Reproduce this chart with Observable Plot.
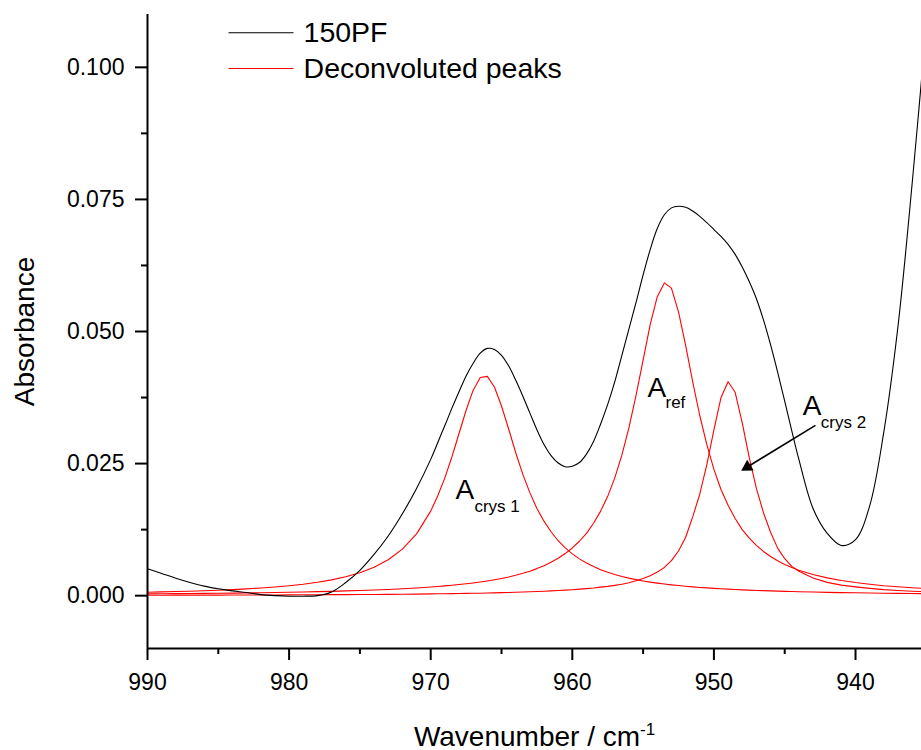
<!DOCTYPE html>
<html>
<head>
<meta charset="utf-8">
<script src="https://cdn.jsdelivr.net/npm/d3@7"></script>
<script src="https://cdn.jsdelivr.net/npm/@observablehq/plot@0.6"></script>
<style>
  body { margin: 0; background: #fff; }
</style>
</head>
<body>
<div id="chart"></div>
<script>
// Wavenumber grid (cm^-1), finer through the band region
const wavenumber = [
  990, 989, 988, 987, 986, 985, 984, 983, 982, 981, 980, 979, 978, 977, 976, 975, 974, 973, 972, 971,
  970, 969.5, 969, 968.5, 968, 967.5, 967, 966.5, 966, 965.5, 965, 964.5, 964, 963.5, 963, 962.5,
  962, 961.5, 961, 960.5, 960, 959.5, 959, 958.5, 958, 957.5, 957, 956.5, 956, 955.5, 955, 954.5,
  954, 953.5, 953, 952.5, 952, 951.5, 951, 950.5, 950, 949.5, 949, 948.5, 948, 947.5, 947, 946.5,
  946, 945.5, 945, 944.5, 944,
  943, 942, 941, 940, 939, 938, 937, 936, 935
];

// Measured spectrum of 150PF
const spectrum150PF = [
  0.0051, 0.0042, 0.0033, 0.0025, 0.0018, 0.0013, 0.0009, 0.0006, 0.0002, 0.0000, -0.0001, -0.0001, 0.0000, 0.0007, 0.0025, 0.0048, 0.0078, 0.0113, 0.0155, 0.0203,
  0.0258, 0.0290, 0.0322, 0.0355, 0.0386, 0.0416, 0.0440, 0.0459, 0.0468, 0.0466, 0.0455, 0.0435, 0.0408, 0.0378, 0.0346, 0.0314,
  0.0286, 0.0265, 0.0251, 0.0244, 0.0245, 0.0252, 0.0268, 0.0292, 0.0325, 0.0362, 0.0405, 0.0455, 0.0505, 0.0555, 0.0607, 0.0655,
  0.0695, 0.0721, 0.0734, 0.0737, 0.0735, 0.0728, 0.0718, 0.0706, 0.0693, 0.0680, 0.0665, 0.0646, 0.0622, 0.0594, 0.0562, 0.0522,
  0.0475, 0.0423, 0.0368, 0.0312, 0.0258,
  0.0165, 0.0118, 0.0095, 0.0106, 0.0170, 0.0310, 0.0510, 0.0780, 0.1080
];

// Deconvoluted component: A crys 1 (~966 cm^-1)
const peakCrys1 = [
  0.00065, 0.00071, 0.00078, 0.00085, 0.00094, 0.00103, 0.00115, 0.00129, 0.00145, 0.00165, 0.00188, 0.00217, 0.00253, 0.00299, 0.00357, 0.00434, 0.00537, 0.00679, 0.0088, 0.0117,
  0.0160, 0.0189, 0.0223, 0.0263, 0.0307, 0.0351, 0.0389, 0.0413, 0.0415, 0.0395, 0.0359, 0.0316, 0.0271, 0.0230, 0.0195, 0.0165,
  0.0141, 0.0121, 0.0104, 0.00905, 0.00791, 0.00696, 0.00617, 0.00550, 0.00492, 0.00443, 0.00401, 0.00364, 0.00332, 0.00304, 0.00279, 0.00257,
  0.00238, 0.00220, 0.00205, 0.00191, 0.00178, 0.00167, 0.00156, 0.00147, 0.00138, 0.00130, 0.00123, 0.00116, 0.00110, 0.00105, 0.00099, 0.00095,
  0.00090, 0.00086, 0.00082, 0.00078, 0.00075,
  0.00069, 0.00063, 0.00058, 0.00054, 0.00050, 0.00047, 0.00044, 0.00041, 0.00038
];

// Deconvoluted component: A ref (~953 cm^-1)
const peakRef = [
  0.00034, 0.00036, 0.00039, 0.00041, 0.00043, 0.00046, 0.00049, 0.00053, 0.00056, 0.00060, 0.00065, 0.00070, 0.00076, 0.00082, 0.00090, 0.00098, 0.00107, 0.00118, 0.00131, 0.00146,
  0.00164, 0.00174, 0.00185, 0.00197, 0.00210, 0.00225, 0.00241, 0.00259, 0.00279, 0.00301, 0.00326, 0.00354, 0.00386, 0.00423, 0.00464, 0.00512,
  0.00567, 0.00632, 0.00708, 0.00797, 0.00903, 0.0103, 0.0118, 0.0137, 0.0160, 0.0188, 0.0223, 0.0266, 0.0318, 0.0379, 0.0446, 0.0513,
  0.0566, 0.0592, 0.0582, 0.0537, 0.0474, 0.0405, 0.0341, 0.0286, 0.0239, 0.0201, 0.0171, 0.0146, 0.0125, 0.0109, 0.00951, 0.00837,
  0.00741, 0.00661, 0.00592, 0.00533, 0.00482,
  0.00400, 0.00337, 0.00287, 0.00248, 0.00216, 0.00189, 0.00168, 0.00149, 0.00134
];

// Deconvoluted component: A crys 2 (~949 cm^-1)
const peakCrys2 = [
  0.00009, 0.00009, 0.00010, 0.00010, 0.00011, 0.00011, 0.00012, 0.00013, 0.00013, 0.00014, 0.00015, 0.00016, 0.00017, 0.00019, 0.00020, 0.00022, 0.00023, 0.00025, 0.00028, 0.00030,
  0.00033, 0.00035, 0.00036, 0.00038, 0.00040, 0.00043, 0.00045, 0.00047, 0.00050, 0.00053, 0.00057, 0.00060, 0.00064, 0.00068, 0.00073, 0.00078,
  0.00084, 0.00091, 0.00097, 0.00104, 0.00113, 0.00123, 0.00134, 0.00146, 0.00162, 0.00176, 0.00195, 0.00215, 0.00245, 0.00281, 0.00324, 0.00378,
  0.00446, 0.00534, 0.00663, 0.00845, 0.0110, 0.0149, 0.0192, 0.0248, 0.0314, 0.0375, 0.0405, 0.0385, 0.0327, 0.0261, 0.0203, 0.0157,
  0.0120, 0.0090, 0.0070, 0.00554, 0.00462,
  0.00334, 0.00252, 0.00200, 0.00166, 0.00138, 0.00115, 0.00099, 0.00085, 0.00075
];

// Axis ticks
const xTicks = [990, 980, 970, 960, 950, 940];
const xMinorTicks = [985, 975, 965, 955, 945];
const yTicks = [0, 0.025, 0.05, 0.075, 0.1];
const yMinorTicks = [0.0125, 0.0375, 0.0625, 0.0875];

// Legend entries
const legendLabels = ["150PF", "Deconvoluted peaks"];
const legendColors = ["#000000", "#ff0000"];

const series = (values) => wavenumber.map((w, i) => ({w, a: values[i]}));

const font = "'Liberation Sans', Arial, Helvetica, sans-serif";

const legendRows = [
  {label: legendLabels[0], color: legendColors[0], y: 0.10655},
  {label: legendLabels[1], color: legendColors[1], y: 0.09979}
];

const chart = Plot.plot({
  width: 921,
  height: 750,
  marginLeft: 147,
  marginRight: 0,
  marginTop: 14,
  marginBottom: 102,
  style: {fontFamily: font, color: "black", background: "white", overflow: "visible"},
  x: {domain: [990, 935.34]},
  y: {domain: [-0.01, 0.11]},
  marks: [
    // deconvoluted components
    Plot.line(series(peakCrys1), {x: "w", y: "a", stroke: legendColors[1], strokeWidth: 1.1, clip: true}),
    Plot.line(series(peakRef), {x: "w", y: "a", stroke: legendColors[1], strokeWidth: 1.1, clip: true}),
    Plot.line(series(peakCrys2), {x: "w", y: "a", stroke: legendColors[1], strokeWidth: 1.1, clip: true}),
    // measured spectrum
    Plot.line(series(spectrum150PF), {x: "w", y: "a", stroke: legendColors[0], strokeWidth: 1.1, curve: "catmull-rom", clip: true}),

    // axes
    Plot.axisX({ticks: xTicks, tickSize: 12, tickPadding: 13, fontSize: 23, strokeWidth: 2, tickFormat: d => String(d), label: null}),
    Plot.axisX({ticks: xMinorTicks, tickSize: 6, strokeWidth: 2, tickFormat: () => "", label: null}),
    Plot.axisY({ticks: yTicks, tickSize: 12, tickPadding: 11, fontSize: 23, strokeWidth: 2, tickFormat: d3.format(".3f"), label: null}),
    Plot.axisY({ticks: yMinorTicks, tickSize: 6, strokeWidth: 2, tickFormat: () => "", label: null}),
    Plot.ruleX([990], {strokeWidth: 2}),
    Plot.ruleY([-0.01], {strokeWidth: 2}),

    // axis titles
    Plot.text(["Wavenumber / cm"], {frameAnchor: "bottom", lineAnchor: "bottom", dy: 97, fontSize: 28, fill: "black"}),
    Plot.text(["Absorbance"], {frameAnchor: "left", textAnchor: "middle", dx: -122, rotate: -90, fontSize: 28, fill: "black"}),

    // legend
    Plot.link(legendRows, {x1: 984.28, x2: 979.69, y1: "y", y2: "y", stroke: "color", strokeWidth: 1.1}),
    Plot.text(legendRows, {x: 978.98, y: "y", text: "label", textAnchor: "start", fontSize: 28.5, fill: "black"}),

    // peak labels
    Plot.text([{x: 968.25, y: 0.01821}], {x: "x", y: "y", text: () => "A", textAnchor: "start", lineAnchor: "bottom", fontSize: 28, fill: "black"}),
    Plot.text([{x: 966.91, y: 0.01575}], {x: "x", y: "y", text: () => "crys 1", textAnchor: "start", lineAnchor: "bottom", fontSize: 17, fill: "black"}),
    Plot.text([{x: 954.69, y: 0.03752}], {x: "x", y: "y", text: () => "A", textAnchor: "start", lineAnchor: "bottom", fontSize: 28, fill: "black"}),
    Plot.text([{x: 953.42, y: 0.03543}], {x: "x", y: "y", text: () => "ref", textAnchor: "start", lineAnchor: "bottom", fontSize: 17, fill: "black"}),
    Plot.text([{x: 943.72, y: 0.03411}], {x: "x", y: "y", text: () => "A", textAnchor: "start", lineAnchor: "bottom", fontSize: 28, fill: "black"}),
    Plot.text([{x: 942.45, y: 0.03165}], {x: "x", y: "y", text: () => "crys 2", textAnchor: "start", lineAnchor: "bottom", fontSize: 17, fill: "black"}),

    // pointer to the A crys 2 component: shaft plus a filled head
    Plot.link([{x1: 942.83, y1: 0.03222, x2: 947.64, y2: 0.02436}], {x1: "x1", y1: "y1", x2: "x2", y2: "y2", stroke: "black", strokeWidth: 1.6}),
    Plot.dot([{x: 947.64, y: 0.02436}], {x: "x", y: "y", symbol: "triangle", r: 4.6, rotate: -121.3, fill: "black", stroke: "none"})
  ]
});

// superscript on the x-axis unit
d3.select(chart).selectAll("text").each(function () {
  if (this.textContent === "Wavenumber / cm") {
    d3.select(this).append("tspan").attr("dy", "-11").attr("font-size", 17).text("-1");
  }
});

document.getElementById("chart").appendChild(chart);
</script>
</body>
</html>
